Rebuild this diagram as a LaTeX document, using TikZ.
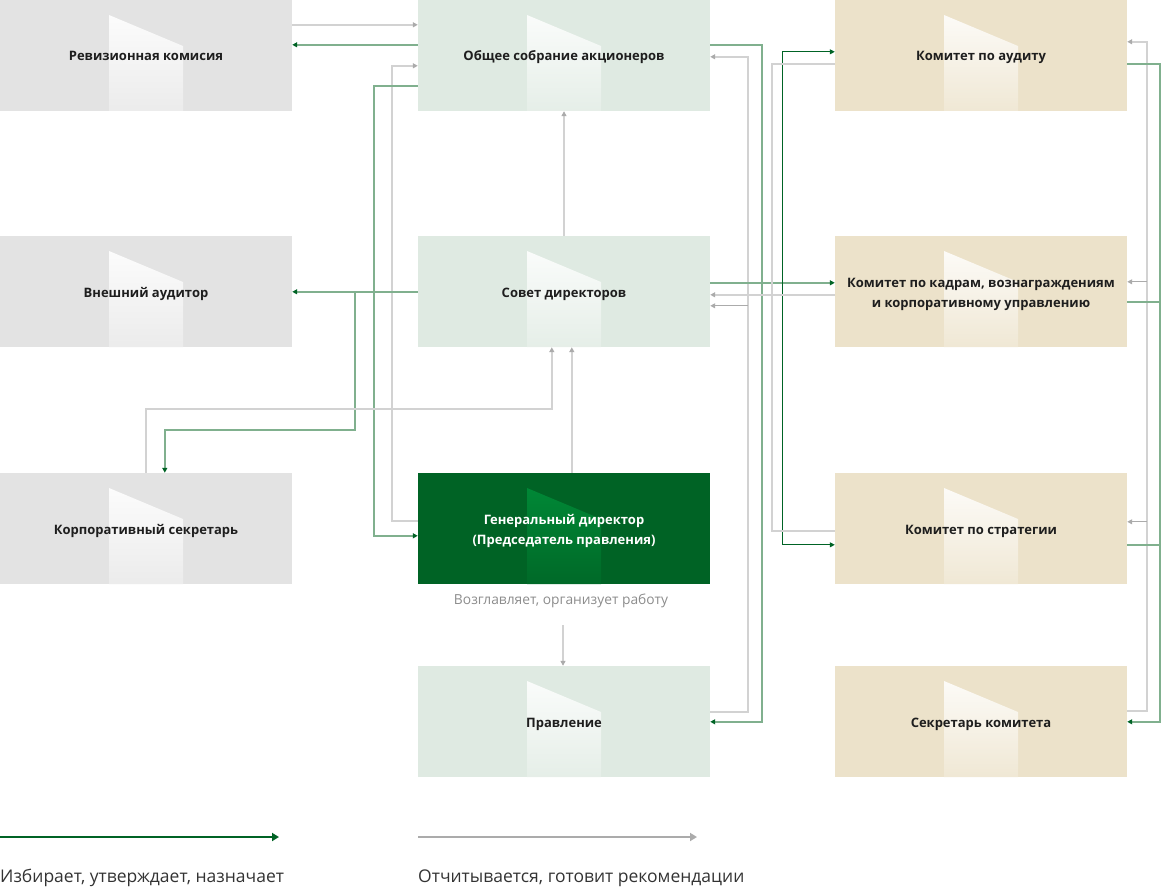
\documentclass[tikz,border=0pt]{standalone}
\usepackage{fontspec}
\setmainfont{Open Sans}
\usetikzlibrary{arrows.meta,calc}

\definecolor{boxgray}{HTML}{E3E3E3}
\definecolor{boxmint}{HTML}{DFEAE2}
\definecolor{boxsand}{HTML}{ECE2CA}
\definecolor{dkgreen}{HTML}{006325}
\definecolor{brightgreen}{HTML}{008C38}
\definecolor{selline}{HTML}{80B08E}
\definecolor{repline}{HTML}{D2D2D2}
\definecolor{reptip}{HTML}{ABABAB}
\definecolor{ink}{HTML}{1E1E1E}
\definecolor{legendink}{HTML}{333333}
\definecolor{notegray}{HTML}{8C8C8C}

% light slanted flare inside every panel
\newcommand\flare[2]{%
  \shade[top color=#1, bottom color=#2]
    ($(path picture bounding box.north west)+(109pt,-15pt)$) --
    ($(path picture bounding box.north west)+(183pt,-46pt)$) --
    ($(path picture bounding box.south west)+(183pt,0pt)$) --
    ($(path picture bounding box.south west)+(109pt,0pt)$) -- cycle;}
% taller first line so two-line captions sit centred
\newcommand\topstrut{\rule{0pt}{15pt}}

\tikzset{
  gtip/.tip={Triangle[length=5pt,width=5pt,color=dkgreen]},
  rtip/.tip={Triangle[length=5pt,width=5pt,color=reptip]},
  panel/.style={minimum width=292pt, minimum height=111pt, inner sep=0pt,
    align=center, font=\bfseries\fontsize{13}{20}\selectfont, text=ink},
  oneline/.style={text height=14pt, text depth=3pt},
  graypanel/.style={panel, fill=boxgray,
    path picture={\flare{white!98!boxgray}{boxgray!70!white}}},
  mintpanel/.style={panel, fill=boxmint,
    path picture={\flare{white!95!boxmint}{boxmint!80!white}}},
  sandpanel/.style={panel, fill=boxsand,
    path picture={\flare{white!95!boxsand}{boxsand!80!white}}},
  darkpanel/.style={panel, fill=dkgreen, text=white,
    path picture={\flare{brightgreen}{dkgreen!85!brightgreen}}},
  sel/.style={draw=selline, line width=1.6pt, -gtip},
  rep/.style={draw=repline, line width=1.6pt, -rtip},
  legendtext/.style={anchor=west, inner sep=0pt, font=\fontsize{17.5}{21}\selectfont, text=legendink},
}

\begin{document}
\begin{tikzpicture}[x=1pt, y=-1pt]
\useasboundingbox (0,0) rectangle (1161,888);

% left column
\node[graypanel, oneline] (rev) at (146,55.5)  {Ревизионная комисия};
\node[graypanel, oneline] (ext) at (146,291.5) {Внешний аудитор};
\node[graypanel, oneline] (sec) at (146,528.5) {Корпоративный секретарь};

% middle column
\node[mintpanel, oneline] (gsm) at (564,55.5)  {Общее собрание акционеров};
\node[mintpanel, oneline] (sov) at (564,291.5) {Совет директоров};
\node[darkpanel] (ceo) at (564,528.5) {\topstrut Генеральный директор\\(Председатель правления)};
\node[mintpanel, oneline] (brd) at (564,721.5) {Правление};
\node[font=\fontsize{13.8}{16}\selectfont, text=notegray] (lbl) at (561,601)
  {Возглавляет, организует работу};

% right column
\node[sandpanel, oneline] (aud) at (981,55.5)  {Комитет по аудиту};
\node[sandpanel] (kad) at (981,291.5) {\topstrut Комитет по кадрам, вознаграждениям\\и корпоративному управлению};
\node[sandpanel, oneline] (str) at (981,528.5) {Комитет по стратегии};
\node[sandpanel, oneline] (sk)  at (981,721.5) {Секретарь комитета};

% --- left side links
\draw[rep] ([yshift=-25pt]rev.north east) -- ([yshift=-25pt]gsm.north west);
\draw[sel] ([yshift=-45pt]gsm.north west) -- ([yshift=-45pt]rev.north east);
\draw[rep] ([yshift=-48pt]ceo.north west) -- ++(-26,0) |- ([yshift=-66pt]gsm.north west);
\draw[sel] ([yshift=-86pt]gsm.north west) -- ++(-44,0) |- ([yshift=-63pt]ceo.north west);
\draw[sel] ([yshift=-56pt]sov.north west) -- ([yshift=-56pt]ext.north east);
\draw[sel] ([xshift=63pt,yshift=-56pt]ext.north east) -- ++(0,138) -| ([xshift=165pt]sec.north west);
\draw[rep] ([xshift=146pt]sec.north west) -- ++(0,-64) -| ([xshift=134pt]sov.south west);

% --- middle links
\draw[rep] ([xshift=154pt]ceo.north west) -- ([xshift=154pt]sov.south west);
\draw[rep] (sov.north) -- (gsm.south);
\draw[rep] ([xshift=2pt,yshift=-14pt]lbl.south) -- ([xshift=2pt]lbl.south |- brd.north);
\draw[sel] ([yshift=-45pt]gsm.north east) -- ++(52,0) |- ([yshift=-56pt]brd.north east);
\draw[rep] ([yshift=-46pt]brd.north east) -- ++(38,0) |- ([yshift=-57pt]gsm.north east);
\draw[rep, draw=reptip, line width=1pt] ([xshift=38pt,yshift=-70pt]sov.north east) -- ([yshift=-70pt]sov.north east);

% --- board to committees and back
\draw[sel] ([yshift=-47pt]sov.north east) -- ([yshift=-47pt]kad.north west);
\draw[sel, draw=dkgreen, line width=1pt, gtip-gtip] ([yshift=-52pt]aud.north west) -| ([xshift=-52pt,yshift=-72pt]str.north west) -- ([yshift=-72pt]str.north west);
\draw[rep, -] ([yshift=-64pt]aud.north west) -- ++(-63,0) |- ([yshift=-58pt]str.north west);
\draw[rep] ([yshift=-59pt]kad.north west) -- ([yshift=-59pt]sov.north east);

% --- committee secretary
\draw[rep] ([yshift=-45pt]sk.north east) -- ++(20,0) |- ([yshift=-42pt]aud.north east);
\draw[rep, draw=reptip, line width=1pt] ([xshift=20pt,yshift=-46pt]kad.north east) -- ([yshift=-46pt]kad.north east);
\draw[rep, draw=reptip, line width=1pt] ([xshift=20pt,yshift=-49pt]str.north east) -- ([yshift=-49pt]str.north east);
\draw[sel] ([yshift=-64pt]aud.north east) -- ++(33,0) |- ([yshift=-56pt]sk.north east);
\draw[sel, -] ([yshift=-66pt]kad.north east) -- ++(33,0);
\draw[sel, -] ([yshift=-72pt]str.north east) -- ++(33,0);

% --- legend
\coordinate (la) at (0,837);
\coordinate (lb) at (279,837);
\coordinate (lc) at (418,837);
\coordinate (ld) at (697,837);
\draw[dkgreen, line width=2pt, -{Triangle[length=7pt,width=8pt]}] (la) -- (lb);
\draw[reptip, line width=2pt, -{Triangle[length=7pt,width=8pt]}] (lc) -- (ld);
\node[legendtext] (lt1) at (0,878) {Избирает, утверждает, назначает};
\node[legendtext] (lt2) at (418,878) {Отчитывается, готовит рекомендации};
\end{tikzpicture}
\end{document}
